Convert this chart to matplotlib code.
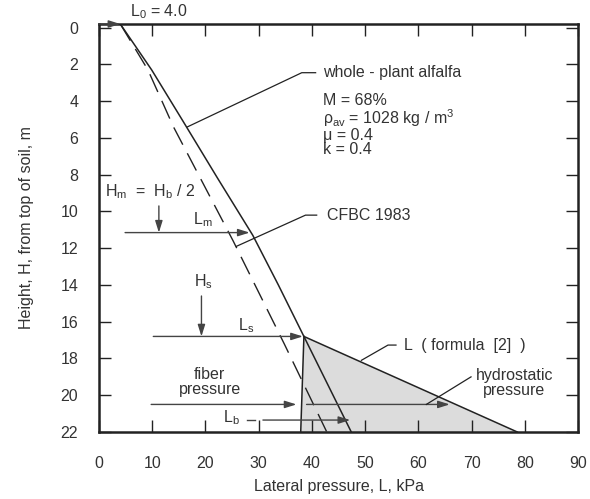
import matplotlib
matplotlib.use("Agg")
import matplotlib.pyplot as plt
from matplotlib.patches import Polygon

plt.rcParams['font.family'] = ['Liberation Sans', 'DejaVu Sans']
plt.rcParams['mathtext.default'] = 'regular'

# ---- data ----
whole_H = [-0.2, 2.3, 5.0, 8.2, 11.3, 14.0, 16.8, 22.0]
whole_L = [4.0, 9.9, 15.6, 22.3, 28.9, 33.7, 38.5, 47.4]

cfbc_H = [-0.2, 2.3, 5.4, 11.6, 17.2, 22.0]
cfbc_L = [4.0, 9.2, 14.0, 25.2, 34.8, 42.8]

# L (formula [2]) line and fiber-pressure boundary
formula_H = [16.8, 22.0]
formula_L = [38.5, 78.6]
fiber_H = [16.8, 22.0]
fiber_L = [38.5, 37.9]

L0 = 4.0
H_m, L_m = 11.15, 28.3
H_s, L_s = 16.8, 38.3
H_b, L_b = 21.35, 47.2
H_arrow = 20.5
fiber_tip = 37.1
hydro_tip = 65.9

xticks = list(range(0, 91, 10))
yticks = list(range(0, 23, 2))

TXT = '#333333'
LN = '#222222'
ARW = '#444444'

fig = plt.figure(figsize=(5.9, 4.99), dpi=100)
ax = fig.add_axes([99/590, 1-432/499, (578-99)/590, (432-24)/499])
ax.set_xlim(0, 90)
ax.set_ylim(22, -0.2)

# gray region
poly = Polygon([(formula_L[0], formula_H[0]), (formula_L[1], formula_H[1]),
                (fiber_L[1], fiber_H[1])], closed=True, facecolor='#dcdcdc',
               edgecolor='none', zorder=1)
ax.add_patch(poly)

ax.plot(whole_L, whole_H, color=LN, lw=1.1, zorder=3)
ax.plot(cfbc_L, cfbc_H, color=LN, lw=1.0, dashes=(14, 7), zorder=3)
ax.plot(formula_L, formula_H, color=LN, lw=1.1, zorder=3)
ax.plot(fiber_L, fiber_H, color=LN, lw=1.1, zorder=3)

ap = dict(arrowstyle='-|>,head_length=0.7,head_width=0.22', color=ARW, lw=1.0,
          shrinkA=0, shrinkB=0, mutation_scale=10)

def arrow(x0, y0, x1, y1):
    ax.annotate('', xy=(x1, y1), xytext=(x0, y0), arrowprops=ap,
                annotation_clip=False, zorder=4)

def leader(xs, ys):
    ax.plot(xs, ys, color=LN, lw=0.9, zorder=4, clip_on=False)

fs = 11.5
# L0
arrow(0, -0.2, L0, -0.2)
ax.text(5.8, -0.85, 'L$_0$ = 4.0', fontsize=fs, color=TXT, ha='left', va='center',
        clip_on=False)

# whole-plant alfalfa
leader([16.6, 38.1, 40.7], [5.4, 2.45, 2.45])
ax.text(42.0, 2.45, 'whole - plant alfalfa', fontsize=fs, color=TXT, va='center')
ax.text(42.0, 3.98, 'M = 68%', fontsize=fs, color=TXT, va='center')
ax.text(42.0, 4.9, 'ρ$_{av}$ = 1028 kg / m$^3$', fontsize=fs, color=TXT, va='center')
ax.text(42.0, 5.88, 'μ = 0.4', fontsize=fs, color=TXT, va='center')
ax.text(42.0, 6.62, 'k = 0.4', fontsize=fs, color=TXT, va='center')

# CFBC 1983
leader([25.8, 38.8, 40.9], [11.9, 10.2, 10.2])
ax.text(42.8, 10.2, 'CFBC 1983', fontsize=fs, color=TXT, va='center')

# Hm = Hb/2 and Lm
ax.text(1.2, 8.9, 'H$_m$  =  H$_b$ / 2', fontsize=fs, color=TXT, va='center')
arrow(11.25, 9.7, 11.25, H_m)
arrow(4.9, H_m, L_m, H_m)
ax.text(19.5, 10.45, 'L$_m$', fontsize=fs, color=TXT, ha='center', va='center')

# Hs and Ls
ax.text(19.6, 13.8, 'H$_s$', fontsize=fs, color=TXT, ha='center', va='center')
arrow(19.25, 14.6, 19.25, H_s)
arrow(10.2, H_s, L_s, H_s)
ax.text(27.7, 16.2, 'L$_s$', fontsize=fs, color=TXT, ha='center', va='center')

# fiber pressure
ax.text(20.8, 19.3, 'fiber\npressure', fontsize=fs, color=TXT, ha='center', va='center',
        linespacing=1.0)
arrow(9.8, H_arrow, fiber_tip, H_arrow)

# hydrostatic pressure
arrow(39.0, H_arrow, hydro_tip, H_arrow)
leader([61.5, 69.9], [H_arrow, 19.0])
ax.text(78.0, 19.35, 'hydrostatic\npressure', fontsize=fs, color=TXT, ha='center',
        va='center', linespacing=1.0)

# L (formula [2])
leader([49.3, 54.3, 55.8], [18.1, 17.27, 17.27])
ax.text(57.4, 17.3, 'L  ( formula  [2]  )', fontsize=fs, color=TXT, va='center')

# Lb
ax.text(24.9, 21.2, 'L$_b$', fontsize=fs, color=TXT, ha='center', va='center')
ax.plot([27.8, 29.3], [H_b, H_b], color=ARW, lw=1.0, zorder=4)
arrow(30.8, H_b, L_b, H_b)

# axes styling
ax.set_xticks(xticks)
ax.set_yticks(yticks)
ax.tick_params(direction='in', length=8.5, width=1.0, top=True, right=True,
               labelsize=fs, labelcolor=TXT, color=LN)
ax.tick_params(axis='x', pad=17)
ax.tick_params(axis='y', pad=15)
for s in ax.spines.values():
    s.set_linewidth(1.8)
    s.set_color(LN)
ax.set_xlabel('Lateral pressure, L, kPa', fontsize=fs, color=TXT, labelpad=6)
ax.set_ylabel('Height, H, from top of soil, m', fontsize=fs, color=TXT, labelpad=19)

fig.savefig('out.png', dpi=100)
